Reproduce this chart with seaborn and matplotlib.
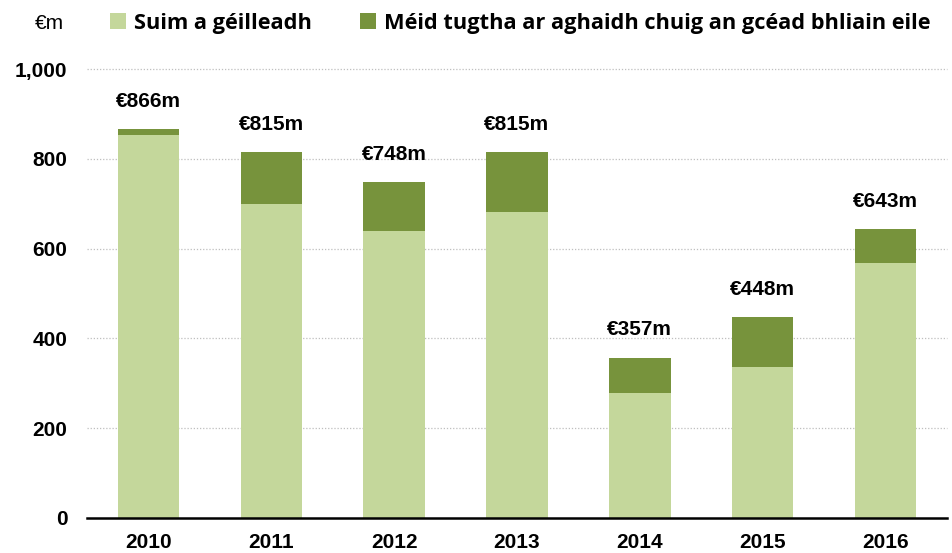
import numpy as np
import pandas as pd
import matplotlib
matplotlib.use("Agg")
import matplotlib.pyplot as plt
import seaborn as sns
from matplotlib.patches import Patch

# ──────────────────────────────────────────────
# Data (€m)
# ──────────────────────────────────────────────
years = ["2010", "2011", "2012", "2013", "2014", "2015", "2016"]
surrendered = [852, 700, 640, 682, 278, 336, 569]        # Suim a géilleadh
carried_forward = [14, 115, 108, 133, 79, 112, 74]       # Méid tugtha ar aghaidh
totals = [866, 815, 748, 815, 357, 448, 643]
y_ticks = [0, 200, 400, 600, 800, 1000]

legend_labels = ["Suim a géilleadh",
                 "Méid tugtha ar aghaidh chuig an gcéad bhliain eile"]
unit_label = "€m"

LIGHT = "#C4D79B"
DARK = "#77933C"


def main():
    sns.set_theme(style="white")
    plt.rcParams["font.family"] = ["Liberation Sans", "DejaVu Sans"]

    df = pd.DataFrame({
        "year": years,
        "base": surrendered,
        "top": carried_forward,
    })
    df["total"] = df["base"] + df["top"]

    fig = plt.figure(figsize=(9.52, 5.53), dpi=100)
    ax = fig.add_axes([0.0914, 0.0633, 0.9033, 0.8119])

    # stacked bars: draw total in dark, then base in light on top
    sns.barplot(data=df, x="year", y="total", color=DARK, width=0.5,
                saturation=1, ax=ax, zorder=3, linewidth=0)
    sns.barplot(data=df, x="year", y="base", color=LIGHT, width=0.5,
                saturation=1, ax=ax, zorder=4, linewidth=0)

    # value labels
    for i, t in enumerate(totals):
        ax.annotate(f"€{t}m", xy=(i, df["total"][i]), xytext=(0, 20),
                    textcoords="offset points", ha="center", va="center",
                    fontsize=15, fontweight="bold", color="black", zorder=5)

    ax.set_ylim(0, 1000)
    ax.set_xlim(-0.5, len(years) - 0.5)
    ax.set_yticks(y_ticks)
    ax.set_yticklabels([f"{v:,}" for v in y_ticks])
    ax.set_xlabel("")
    ax.set_ylabel("")

    # dotted gridlines
    for v in y_ticks[1:]:
        ax.axhline(v, color="#BFBFBF", linestyle=(0, (1, 1.5)), linewidth=0.9,
                   zorder=1, clip_on=False)

    for side in ["left", "right", "top"]:
        ax.spines[side].set_visible(False)
    ax.spines["bottom"].set_color("black")
    ax.spines["bottom"].set_linewidth(1.8)
    ax.spines["bottom"].set_zorder(6)

    ax.tick_params(axis="y", length=0, pad=14, labelsize=15)
    ax.tick_params(axis="x", which="major", length=0, pad=11, labelsize=15)
    ax.set_xticks(np.arange(-0.5, len(years)), minor=True)
    ax.tick_params(axis="x", which="minor", direction="out", length=5,
                   width=1.8, color="black")
    for lbl in ax.get_xticklabels() + ax.get_yticklabels():
        lbl.set_fontweight("bold")
        lbl.set_color("black")

    # unit label and legend
    fig.text(0.037, 0.958, unit_label, fontsize=15, va="center", ha="left",
             color="black")
    handles = [Patch(facecolor=LIGHT, edgecolor="none"),
               Patch(facecolor=DARK, edgecolor="none")]
    leg = fig.legend(handles, legend_labels, ncol=2, loc="center left",
                     bbox_to_anchor=(0.116, 0.958), frameon=False,
                     handlelength=0.7, handleheight=0.7, handletextpad=0.4,
                     columnspacing=2.2, borderaxespad=0, borderpad=0,
                     prop={"family": "Open Sans", "weight": "bold", "size": 15.7})
    for t in leg.get_texts():
        t.set_color("black")

    fig.savefig("out.png", dpi=100, facecolor="white")
    plt.close(fig)


if __name__ == "__main__":
    main()
